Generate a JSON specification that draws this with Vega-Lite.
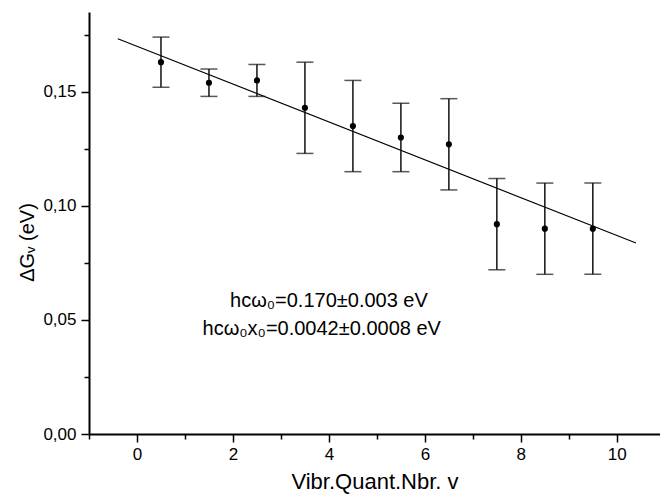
{
  "$schema": "https://vega.github.io/schema/vega-lite/v6.json",
  "width": 571,
  "height": 422,
  "autosize": "none",
  "padding": {"left": 89, "top": 12, "right": 0, "bottom": 65},
  "background": "white",
  "config": {
    "view": {"stroke": null},
    "axis": {
      "grid": false,
      "labelFont": "Liberation Sans",
      "titleFont": "Liberation Sans",
      "labelColor": "black",
      "titleColor": "black",
      "domainColor": "black",
      "tickColor": "black",
      "titleFontWeight": "normal"
    }
  },
  "datasets": {
    "pts": [
      {"v": 0.5, "dg": 0.163, "lo": 0.152, "hi": 0.174},
      {"v": 1.5, "dg": 0.154, "lo": 0.148, "hi": 0.160},
      {"v": 2.5, "dg": 0.155, "lo": 0.148, "hi": 0.162},
      {"v": 3.5, "dg": 0.143, "lo": 0.123, "hi": 0.163},
      {"v": 4.5, "dg": 0.135, "lo": 0.115, "hi": 0.155},
      {"v": 5.5, "dg": 0.130, "lo": 0.115, "hi": 0.145},
      {"v": 6.5, "dg": 0.127, "lo": 0.107, "hi": 0.147},
      {"v": 7.5, "dg": 0.092, "lo": 0.072, "hi": 0.112},
      {"v": 8.5, "dg": 0.090, "lo": 0.070, "hi": 0.110},
      {"v": 9.5, "dg": 0.090, "lo": 0.070, "hi": 0.110}
    ],
    "fit": [
      {"v": -0.4, "dg": 0.1733},
      {"v": 10.4, "dg": 0.0837}
    ],
    "ann": [
      {"v": 4.0, "dg": 0.0585, "label": "hcω₀=0.170±0.003 eV"},
      {"v": 3.85, "dg": 0.046, "label": "hcω₀x₀=0.0042±0.0008 eV"}
    ]
  },
  "resolve": {"axis": {"x": "independent", "y": "independent"}},
  "layer": [
    {
      "data": {"name": "fit"},
      "mark": {"type": "line", "color": "black", "strokeWidth": 1.1},
      "encoding": {
        "x": {
          "field": "v", "type": "quantitative",
          "scale": {"domain": [-1, 10.9], "nice": false, "zero": false},
          "axis": {
            "orient": "bottom",
            "values": [0, 2, 4, 6, 8, 10],
            "format": "d",
            "tickSize": 8, "tickWidth": 1.5, "domainWidth": 2,
            "labelFontSize": 17, "labelPadding": 4,
            "title": "Vibr.Quant.Nbr. v", "titleFontSize": 22, "titlePadding": 9
          }
        },
        "y": {
          "field": "dg", "type": "quantitative",
          "scale": {"domain": [0, 0.185], "nice": false, "zero": false},
          "axis": {
            "orient": "left",
            "values": [0, 0.05, 0.1, 0.15],
            "labelExpr": "replace(format(datum.value, '.2f'), '.', ',')",
            "tickSize": 8, "tickWidth": 1.5, "domainWidth": 2,
            "labelFontSize": 17, "labelPadding": 5,
            "title": "ΔGᵥ (eV)", "titleFontSize": 20,
            "titleX": -62, "titleY": 230, "titleBaseline": "middle", "titleAngle": 270
          }
        }
      }
    },
    {
      "data": {"name": "pts"},
      "mark": {"type": "rule", "color": "#111", "strokeWidth": 1.5},
      "encoding": {
        "x": {
          "field": "v", "type": "quantitative",
          "axis": {
            "orient": "bottom", "values": [-1, 1, 3, 5, 7, 9], "labels": false,
            "tickSize": 5, "tickWidth": 1.5, "domain": false, "title": null
          }
        },
        "y": {
          "field": "lo", "type": "quantitative",
          "axis": {
            "orient": "left", "values": [0.025, 0.075, 0.125, 0.175], "labels": false,
            "tickSize": 5, "tickWidth": 1.5, "domain": false, "title": null
          }
        },
        "y2": {"field": "hi"}
      }
    },
    {
      "data": {"name": "pts"},
      "mark": {"type": "tick", "orient": "horizontal", "color": "#111", "size": 17, "thickness": 1.5},
      "encoding": {
        "x": {"field": "v", "type": "quantitative", "axis": null},
        "y": {"field": "lo", "type": "quantitative", "axis": null}
      }
    },
    {
      "data": {"name": "pts"},
      "mark": {"type": "tick", "orient": "horizontal", "color": "#111", "size": 17, "thickness": 1.5},
      "encoding": {
        "x": {"field": "v", "type": "quantitative", "axis": null},
        "y": {"field": "hi", "type": "quantitative", "axis": null}
      }
    },
    {
      "data": {"name": "pts"},
      "mark": {"type": "point", "filled": true, "color": "black", "size": 38, "opacity": 1},
      "encoding": {
        "x": {"field": "v", "type": "quantitative", "axis": null},
        "y": {"field": "dg", "type": "quantitative", "axis": null}
      }
    },
    {
      "data": {"name": "ann"},
      "mark": {"type": "text", "font": "Liberation Sans", "fontSize": 20, "color": "black", "align": "center", "baseline": "middle"},
      "encoding": {
        "x": {"field": "v", "type": "quantitative", "axis": null},
        "y": {"field": "dg", "type": "quantitative", "axis": null},
        "text": {"field": "label"}
      }
    }
  ]
}
